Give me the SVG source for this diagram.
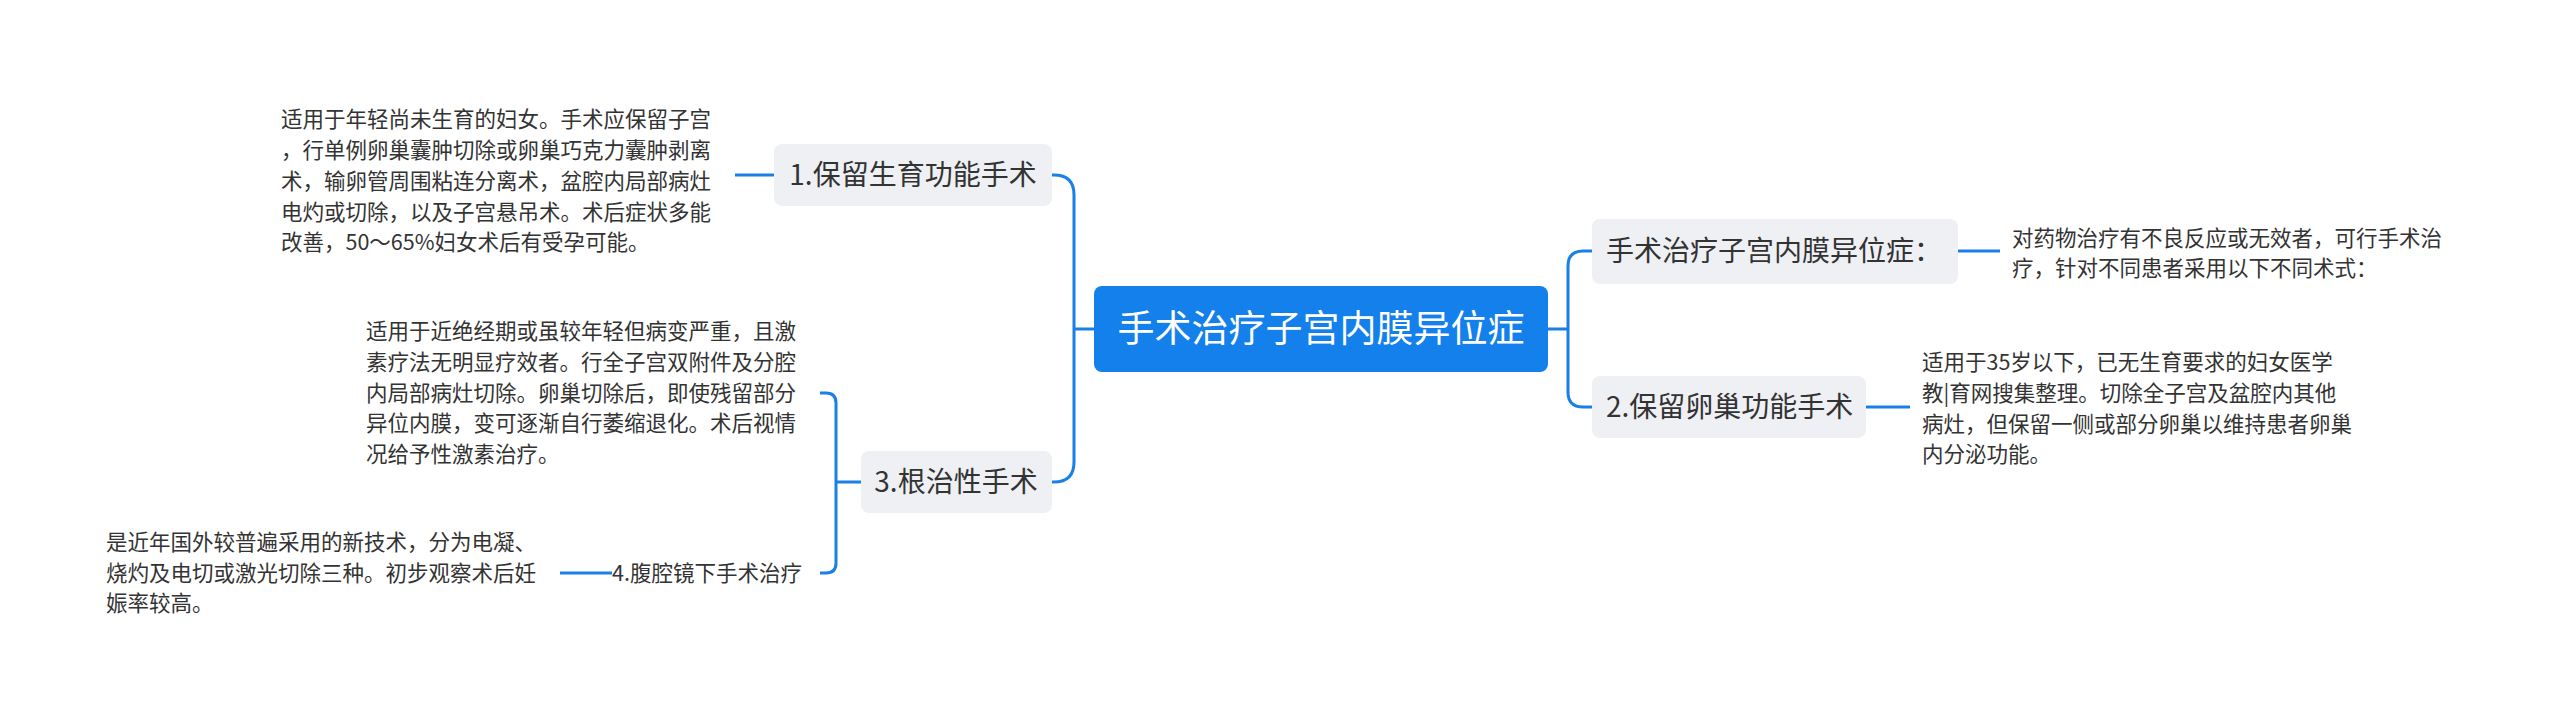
<svg xmlns="http://www.w3.org/2000/svg" width="2560" height="721" viewBox="0 0 2560 721">
<style>
text{font-family:"Noto Sans CJK SC","Noto Sans",sans-serif;fill:#333}
.box{fill:#eef0f3}
.b{font-size:28px}
.l{font-size:21.5px}
.c{stroke:#1a7fe6;stroke-width:3;fill:none}
</style>
<rect width="2560" height="721" fill="#fff"/>
<g id="connectors">
<path class="c" d="M1094 329 H1074 M1074 329 V195 Q1074 175 1054 175 H1052 M1074 329 V462 Q1074 482 1054 482 H1052"/>
<path class="c" d="M1548 329 H1568 M1568 329 V266 Q1568 251 1583 251 H1592 M1568 329 V392 Q1568 407 1583 407 H1592"/>
<path class="c" d="M774 175 H735"/>
<path class="c" d="M861 482 H836 M836 482 V403 Q836 393 826 393 H820 M836 482 V563 Q836 573 826 573 H820"/>
<path class="c" d="M612 573 H560"/>
<path class="c" d="M1958 251 H2000"/>
<path class="c" d="M1866 407 H1910"/>
</g>
<g id="root"><rect x="1094" y="286" width="454" height="86" rx="8" fill="#1380eb"/><text x="1321" y="342" text-anchor="middle" style="font-size:37px;fill:#fff">手术治疗子宫内膜异位症</text></g>
<g id="n1"><rect class="box" x="774" y="144" width="278" height="62" rx="8"/><text class="b" x="913" y="185" text-anchor="middle">1.保留生育功能手术</text></g>
<g id="n3"><rect class="box" x="861" y="451" width="191" height="62" rx="8"/><text class="b" x="956" y="492" text-anchor="middle">3.根治性手术</text></g>
<g id="r1"><rect class="box" x="1592" y="219" width="366" height="65" rx="8"/><text class="b" x="1606" y="261">手术治疗子宫内膜异位症：</text></g>
<g id="r2"><rect class="box" x="1592" y="376" width="274" height="62" rx="8"/><text class="b" x="1606" y="417">2.保留卵巢功能手术</text></g>
<g id="t1" class="l"><text class="l" x="281" y="127">适用于年轻尚未生育的妇女。手术应保留子宫</text><text class="l" x="281" y="158">，行单例卵巢囊肿切除或卵巢巧克力囊肿剥离</text><text class="l" x="281" y="189">术，输卵管周围粘连分离术，盆腔内局部病灶</text><text class="l" x="281" y="220">电灼或切除，以及子宫悬吊术。术后症状多能</text><text class="l" x="281" y="250">改善，50～65%妇女术后有受孕可能。</text></g>
<g id="t3"><text class="l" x="366" y="339">适用于近绝经期或虽较年轻但病变严重，且激</text><text class="l" x="366" y="370">素疗法无明显疗效者。行全子宫双附件及分腔</text><text class="l" x="366" y="401">内局部病灶切除。卵巢切除后，即使残留部分</text><text class="l" x="366" y="431">异位内膜，变可逐渐自行萎缩退化。术后视情</text><text class="l" x="366" y="462">况给予性激素治疗。</text></g>
<g id="n4"><text class="l" x="612" y="581">4.腹腔镜下手术治疗</text></g>
<g id="t4"><text class="l" x="106" y="550">是近年国外较普遍采用的新技术，分为电凝、</text><text class="l" x="106" y="581">烧灼及电切或激光切除三种。初步观察术后妊</text><text class="l" x="106" y="611">娠率较高。</text></g>
<g id="tr1"><text class="l" x="2012" y="246">对药物治疗有不良反应或无效者，可行手术治</text><text class="l" x="2012" y="276">疗，针对不同患者采用以下不同术式：</text></g>
<g id="tr2"><text class="l" x="1922" y="370">适用于35岁以下，已无生育要求的妇女医学</text><text class="l" x="1922" y="401">教|育网搜集整理。切除全子宫及盆腔内其他</text><text class="l" x="1922" y="432">病灶，但保留一侧或部分卵巢以维持患者卵巢</text><text class="l" x="1922" y="462">内分泌功能。</text></g>
</svg>
